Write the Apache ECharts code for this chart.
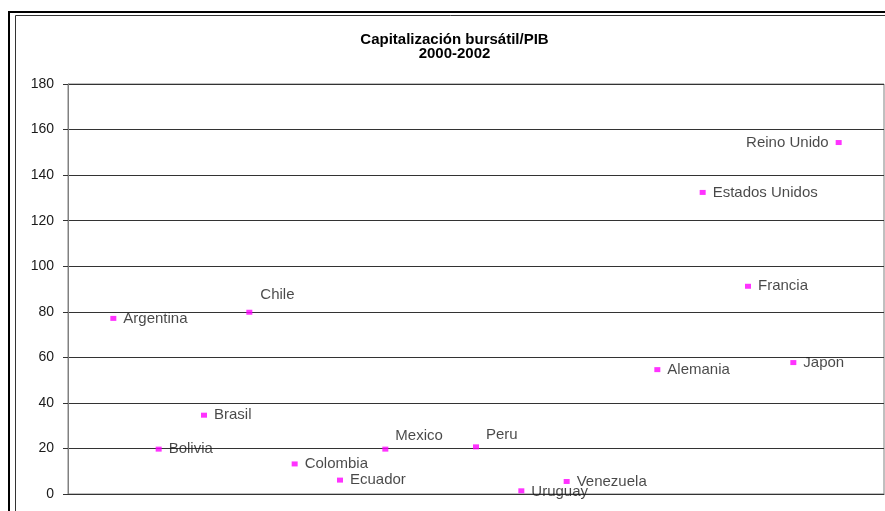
<!DOCTYPE html>
<html>
<head>
<meta charset="utf-8">
<script src="https://cdn.jsdelivr.net/npm/echarts@6/dist/echarts.min.js"></script>
<style>
  html, body { margin: 0; padding: 0; background: #fff; }
  #chart { width: 885px; height: 511px; }
</style>
</head>
<body>
<div id="chart"></div>
<script>
// Market capitalisation as % of GDP, average 2000-2002
var countries = ['Argentina', 'Bolivia', 'Brasil', 'Chile', 'Colombia', 'Ecuador', 'Mexico',
                 'Peru', 'Uruguay', 'Venezuela', 'Alemania', 'Estados Unidos', 'Francia',
                 'Japon', 'Reino Unido'];
// horizontal slot of each country (slots 8 and 12 are empty)
var slots = [1, 2, 3, 4, 5, 6, 7, 9, 10, 11, 13, 14, 15, 16, 17];
var capPib = [77.1, 19.7, 34.6, 79.8, 13.2, 6.1, 19.7, 20.7, 1.4, 5.5, 54.6, 132.4, 91.2, 57.7, 154.3];
var yTicks = [0, 20, 40, 60, 80, 100, 120, 140, 160, 180];

// label placement tweaks per country
var labelTweaks = {
  'Chile': { offset: [1, -17] },
  'Mexico': { offset: [0, -13] },
  'Peru': { offset: [0, -12] },
  'Uruguay': { offset: [0, 1] },
  'Reino Unido': { position: 'left' }
};

var points = countries.map(function (name, i) {
  var t = labelTweaks[name] || {};
  return {
    name: name,
    value: [slots[i], capPib[i]],
    label: {
      show: true,
      formatter: name,
      position: t.position || 'right',
      distance: 7,
      offset: t.offset || [0, 0]
    }
  };
});

var chart = echarts.init(document.getElementById('chart'), null, { renderer: 'canvas' });
chart.setOption({
  animation: false,
  backgroundColor: '#ffffff',
  textStyle: { fontFamily: 'Liberation Sans, Arial, sans-serif' },
  grid: {
    left: 68, top: 84, right: 1, bottom: 17,
    show: true, borderColor: '#808080', borderWidth: 1, backgroundColor: 'transparent'
  },
  graphic: [
    { type: 'rect', silent: true, z: 100,
      shape: { x: 9, y: 12, width: 1000, height: 700 },
      style: { fill: null, stroke: '#000', lineWidth: 2 } },
    { type: 'rect', silent: true, z: 100,
      shape: { x: 15.5, y: 15.5, width: 1000, height: 700 },
      style: { fill: null, stroke: '#333', lineWidth: 1 } },
    { type: 'text', silent: true, z: 100,
      style: { x: 454.5, y: 40, text: 'Capitalización bursátil/PIB', textAlign: 'center',
               textVerticalAlign: 'middle', fill: '#000',
               font: 'bold 15px "Liberation Sans", Arial, sans-serif' } },
    { type: 'text', silent: true, z: 100,
      style: { x: 454.5, y: 54, text: '2000-2002', textAlign: 'center',
               textVerticalAlign: 'middle', fill: '#000',
               font: 'bold 15px "Liberation Sans", Arial, sans-serif' } }
  ],
  xAxis: {
    type: 'value', min: 0, max: 18,
    axisLine: { show: true, onZero: false, lineStyle: { color: '#333', width: 1 } },
    axisTick: { show: false },
    axisLabel: { show: false },
    splitLine: { show: false }
  },
  yAxis: {
    type: 'value', min: yTicks[0], max: yTicks[yTicks.length - 1], interval: 20,
    axisLine: { show: true, lineStyle: { color: '#808080', width: 1 } },
    axisTick: { show: true, inside: false, length: 5, lineStyle: { color: '#333' } },
    axisLabel: { color: '#1a1a1a', fontSize: 14, margin: 14,
                 fontFamily: 'Liberation Sans, Arial, sans-serif' },
    splitLine: { show: true, lineStyle: { color: '#333', width: 1 } }
  },
  series: [{
    type: 'scatter',
    symbol: 'rect',
    symbolSize: [6, 5],
    itemStyle: { color: '#ff00ff' },
    label: { color: '#1a1a1a', fontSize: 15, fontFamily: 'Liberation Sans, Arial, sans-serif' },
    data: points
  }]
});
</script>
</body>
</html>
